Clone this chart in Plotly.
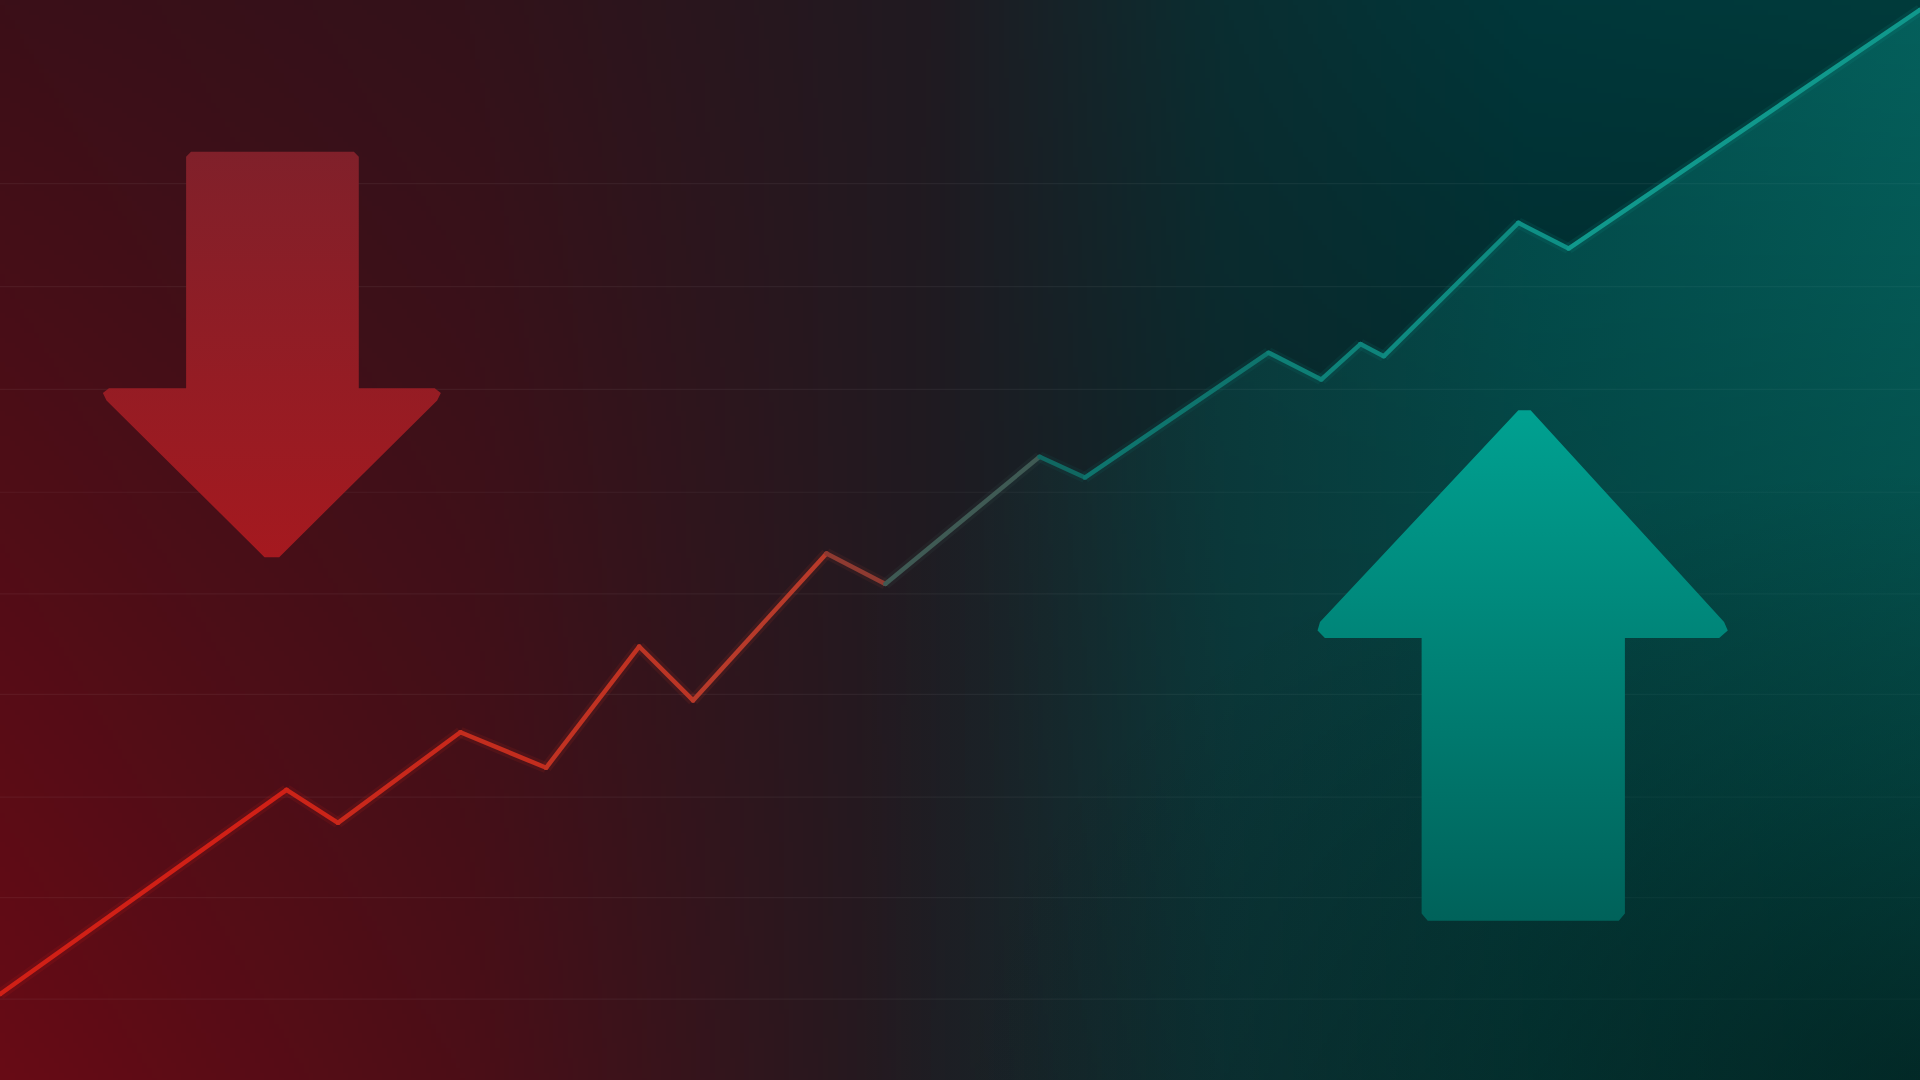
import numpy as np
import plotly.graph_objects as go

# 畫面座標（以 1568 x 882 為基準）
W, H = 1568, 882

# 折線資料
line_x = [0, 234, 276, 376, 446, 522, 566, 675, 723, 849, 886, 1036, 1079, 1111, 1130, 1240, 1281, 1568]
line_y = [812, 645, 672, 598, 627, 528, 572, 452, 477, 373, 390, 288, 310, 281, 291, 182, 203, 8]

# 水平格線
grid_y = [150, 234, 318, 402, 485, 567, 651, 733, 816]

# 箭頭輪廓
down_x = [156, 289, 293, 293, 355, 360, 357, 228, 216, 87, 84, 89, 152, 152, 156]
down_y = [124, 124, 128, 317, 317, 321, 327, 455, 455, 327, 321, 317, 317, 128, 124]
up_x = [1240, 1250, 1408, 1411, 1404, 1327, 1327, 1322, 1166, 1161, 1161, 1082, 1076, 1078, 1240]
up_y = [335, 335, 508, 515, 521, 521, 746, 752, 752, 746, 521, 521, 515, 508, 335]

# 背景漸層的色票
bg_col_x = [0, 380, 760, 1000, 1250, 1568]
bg_top = ['#3b0f18', '#33121a', '#201a21', '#0a2e31', '#00373a', '#003b3b']
bg_bot = ['#680b15', '#4c0e17', '#1f1b21', '#0c2226', '#031a1b', '#000c0c']

# 折線顏色沿 x 的色票
line_stop_x = [0, 250, 450, 620, 700, 786, 870, 1000, 1250, 1568]
line_stop_c = ['#d41e16', '#cc2418', '#c23020', '#b83a2a', '#8e3a32', '#3f5a54',
               '#0f6862', '#0e7a72', '#0e9086', '#12a092']


def hex_rgb(h):
    h = h.lstrip('#')
    return np.array([int(h[i:i + 2], 16) for i in (0, 2, 4)], dtype=float)


def color_at(x, xs, cs):
    rgb = np.array([hex_rgb(c) for c in cs])
    r, g, b = (np.interp(x, xs, rgb[:, k]) for k in range(3))
    return f'rgb({int(r)},{int(g)},{int(b)})'


# 背景影像
step = 4
px = np.arange(0, W, step) + step / 2
py = np.arange(0, H + step, step) + step / 2
top_rgb = np.array([hex_rgb(c) for c in bg_top])
bot_rgb = np.array([hex_rgb(c) for c in bg_bot])
top_row = np.stack([np.interp(px, bg_col_x, top_rgb[:, k]) for k in range(3)], axis=-1)
bot_row = np.stack([np.interp(px, bg_col_x, bot_rgb[:, k]) for k in range(3)], axis=-1)
t = (py / H).clip(0, 1)[:, None, None]
img = top_row[None, :, :] * (1 - t) + bot_row[None, :, :] * t
img = img.clip(0, 255).astype(np.uint8)

fig = go.Figure()

fig.add_trace(go.Image(z=img, x0=step / 2, dx=step, y0=step / 2, dy=step, hoverinfo='skip'))

# 格線
gx, gy = [], []
for g in grid_y:
    gx += [0, W, None]
    gy += [g, g, None]
fig.add_trace(go.Scatter(x=gx, y=gy, mode='lines', hoverinfo='skip',
                         line=dict(color='rgba(255,255,255,0.05)', width=1.2)))

# 折線下方的填色
fig.add_trace(go.Scatter(x=[0, W], y=[H, H], mode='lines', line=dict(width=0), hoverinfo='skip'))
fig.add_trace(go.Scatter(
    x=line_x, y=line_y, mode='lines', line=dict(width=0), fill='tonexty', hoverinfo='skip',
    fillgradient=dict(type='horizontal', start=700, stop=W,
                      colorscale=[[0, 'rgba(10,150,140,0)'], [0.12, 'rgba(10,150,140,0.04)'],
                                  [0.35, 'rgba(10,150,140,0.15)'], [0.6, 'rgba(10,150,140,0.25)'],
                                  [1, 'rgba(10,155,145,0.38)']])))

# 右下角暗角
fig.add_trace(go.Scatter(
    x=[W - 800, W + 800, W + 800, W - 800, W - 800], y=[H - 500, H - 500, H + 500, H + 500, H - 500],
    mode='lines', fill='toself', line=dict(width=0), hoverinfo='skip',
    fillgradient=dict(type='radial',
                      colorscale=[[0, 'rgba(0,10,10,0.45)'], [0.5, 'rgba(0,10,10,0.2)'],
                                  [1, 'rgba(0,10,10,0)']])))

# 箭頭
fig.add_trace(go.Scatter(
    x=down_x, y=down_y, mode='lines', fill='toself', line=dict(width=0), hoverinfo='skip',
    fillgradient=dict(type='vertical', start=124, stop=458,
                      colorscale=[[0, '#80202a'], [1, '#a5191f']])))
fig.add_trace(go.Scatter(
    x=up_x, y=up_y, mode='lines', fill='toself', line=dict(width=0), hoverinfo='skip',
    fillgradient=dict(type='vertical', start=334, stop=752,
                      colorscale=[[0, '#00a191'], [1, '#00625a']])))

# 折線（逐段上色，頂點加圓點補接縫）
for i in range(len(line_x) - 1):
    mid = (line_x[i] + line_x[i + 1]) / 2
    c = color_at(mid, line_stop_x, line_stop_c)
    fig.add_trace(go.Scatter(x=line_x[i:i + 2], y=line_y[i:i + 2], mode='lines', hoverinfo='skip',
                             line=dict(color=c, width=11), opacity=0.12))
for i in range(len(line_x) - 1):
    mid = (line_x[i] + line_x[i + 1]) / 2
    c = color_at(mid, line_stop_x, line_stop_c)
    fig.add_trace(go.Scatter(x=line_x[i:i + 2], y=line_y[i:i + 2], mode='lines+markers', hoverinfo='skip',
                             line=dict(color=c, width=4.5),
                             marker=dict(color=c, size=4.5, line=dict(width=0))))

fig.update_layout(
    width=1920, height=1080,
    margin=dict(l=0, r=0, t=0, b=0),
    showlegend=False,
    paper_bgcolor='#1e1a20',
    plot_bgcolor='#1e1a20',
    hovermode=False,
    xaxis=dict(range=[0, W], visible=False, fixedrange=True),
    yaxis=dict(range=[H, 0], visible=False, fixedrange=True),
)

fig.write_html("out.html", config={'displayModeBar': False},
               post_script="document.body.style.margin='0px';document.body.style.overflow='hidden';")
